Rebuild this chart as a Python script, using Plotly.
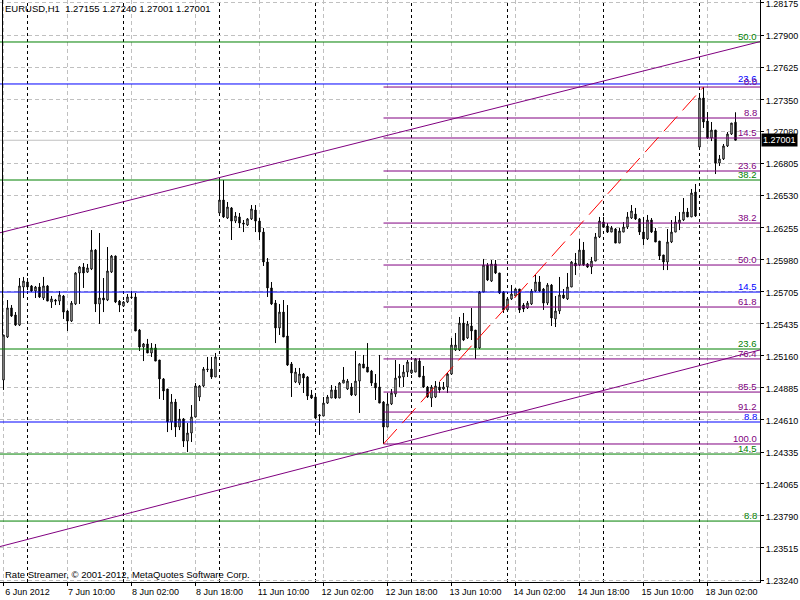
import plotly.graph_objects as go

# ---------------- data (EURUSD H1) ----------------
open_ = [1.24951,1.25319,1.25567,1.25507,1.25421,1.25746,1.25789,1.25755,1.25712,1.25746,
1.25652,1.25755,1.25618,1.25635,1.25626,1.25669,1.25541,1.25455,1.25601,1.25866,
1.25917,1.25874,1.25900,1.26062,1.25601,1.25652,1.25635,1.25874,1.26011,1.25626,
1.25584,1.25618,1.25661,1.25661,1.25378,1.25233,1.25259,1.25182,1.25225,1.25122,
1.24960,1.24874,1.24592,1.24763,1.24549,1.24618,1.24429,1.24498,1.24635,1.24806,
1.24900,1.25045,1.25045,1.24977,1.26379,1.26490,1.26336,1.26422,1.26310,1.26345,
1.26293,1.26276,1.26328,1.26404,1.26310,1.26216,1.25960,1.25738,1.25609,1.25396,
1.25532,1.25327,1.25088,1.24934,1.24925,1.25002,1.24977,1.24823,1.24806,1.24643,
1.24643,1.24754,1.24797,1.24866,1.24797,1.24925,1.24874,1.24891,1.24823,1.24942,
1.25088,1.25062,1.25028,1.24925,1.24891,1.24763,1.24549,1.24746,1.24831,1.24968,
1.24977,1.25019,1.25011,1.25019,1.25113,1.24985,1.24891,1.24797,1.24806,1.24891,
1.24874,1.24891,1.25002,1.25208,1.25208,1.25438,1.25310,1.25413,1.25378,1.25225,
1.25703,1.25934,1.25797,1.25943,1.25866,1.25703,1.25550,1.25644,1.25669,1.25729,
1.25592,1.25567,1.25601,1.25712,1.25789,1.25729,1.25609,1.25763,1.25473,1.25541,
1.25678,1.25644,1.25746,1.25951,1.25934,1.26062,1.25943,1.25917,1.25968,1.26174,
1.26302,1.26268,1.26216,1.26242,1.26122,1.26216,1.26259,1.26336,1.26370,1.26328,
1.26216,1.26157,1.26319,1.26225,1.26139,1.26020,1.25960,1.26131,1.26216,1.26293,
1.26319,1.26387,1.26345,1.26558,1.26943,1.27362,1.27165,1.27020,1.27088,1.26806,
1.26841,1.26952,1.27054,1.27155]
high_ = [1.25336,1.25635,1.25592,1.25532,1.25823,1.25832,1.25823,1.25763,1.25755,1.25780,
1.25832,1.25763,1.25669,1.25644,1.25712,1.25678,1.25550,1.25626,1.25874,1.25926,
1.25951,1.25943,1.26233,1.26071,1.26208,1.25823,1.26088,1.26020,1.26015,1.25635,
1.25626,1.25686,1.25712,1.25695,1.25387,1.25267,1.25302,1.25267,1.25259,1.25122,
1.24968,1.24874,1.24831,1.24789,1.24703,1.24626,1.24583,1.24737,1.24925,1.24908,
1.25062,1.25148,1.25148,1.25182,1.26661,1.26661,1.26473,1.26430,1.26387,1.26379,
1.26319,1.26336,1.26447,1.26447,1.26336,1.26251,1.25994,1.25789,1.25635,1.25601,
1.25635,1.25592,1.25105,1.25054,1.25054,1.25011,1.24985,1.24866,1.24814,1.24660,
1.24806,1.24823,1.24908,1.24900,1.24934,1.25062,1.24960,1.24925,1.25199,1.25096,
1.25165,1.25267,1.25037,1.25002,1.25165,1.24771,1.24840,1.24874,1.25122,1.25088,
1.25079,1.25122,1.25105,1.25139,1.25139,1.25071,1.24900,1.24908,1.24942,1.24934,
1.24934,1.25011,1.25310,1.25353,1.25490,1.25524,1.25455,1.25567,1.25378,1.25712,
1.25986,1.25951,1.25977,1.25977,1.25866,1.25712,1.25661,1.25763,1.25738,1.25729,
1.25609,1.25626,1.25729,1.25849,1.25840,1.25738,1.25780,1.25772,1.25669,1.25832,
1.25729,1.25866,1.25968,1.26037,1.26157,1.26131,1.25951,1.26003,1.26208,1.26345,
1.26345,1.26293,1.26268,1.26251,1.26251,1.26302,1.26387,1.26447,1.26422,1.26336,
1.26345,1.26362,1.26336,1.26251,1.26139,1.26020,1.26242,1.26319,1.26353,1.26387,
1.26507,1.26422,1.26584,1.26627,1.27379,1.27456,1.27242,1.27157,1.27088,1.26875,
1.26969,1.27071,1.27148,1.27240]
low_ = [1.24866,1.25310,1.25490,1.25413,1.25413,1.25652,1.25720,1.25703,1.25652,1.25652,
1.25635,1.25626,1.25567,1.25592,1.25592,1.25473,1.25370,1.25447,1.25592,1.25601,
1.25738,1.25866,1.25891,1.25532,1.25430,1.25532,1.25626,1.25866,1.25609,1.25532,
1.25575,1.25609,1.25644,1.25370,1.25199,1.25113,1.25182,1.25148,1.25113,1.24789,
1.24780,1.24506,1.24523,1.24464,1.24523,1.24378,1.24335,1.24421,1.24630,1.24771,
1.24891,1.25019,1.24960,1.24977,1.26379,1.26336,1.26328,1.26148,1.26293,1.26251,
1.26216,1.26268,1.26319,1.26216,1.26148,1.25926,1.25661,1.25592,1.25267,1.25336,
1.25319,1.25071,1.24806,1.24925,1.24908,1.24840,1.24780,1.24789,1.24626,1.24481,
1.24643,1.24746,1.24797,1.24789,1.24797,1.24925,1.24866,1.24814,1.24814,1.24669,
1.25054,1.25019,1.24900,1.24780,1.24754,1.24404,1.24549,1.24737,1.24806,1.24891,
1.24891,1.24977,1.25002,1.25019,1.24977,1.24883,1.24797,1.24720,1.24797,1.24840,
1.24866,1.24840,1.24994,1.25199,1.25199,1.25284,1.25302,1.25293,1.25131,1.25216,
1.25703,1.25797,1.25789,1.25857,1.25686,1.25524,1.25541,1.25635,1.25661,1.25524,
1.25532,1.25558,1.25592,1.25703,1.25703,1.25550,1.25592,1.25413,1.25404,1.25515,
1.25644,1.25635,1.25746,1.25849,1.25926,1.25926,1.25909,1.25857,1.25968,1.26165,
1.26251,1.26208,1.26216,1.26122,1.26122,1.26216,1.26242,1.26328,1.26319,1.26191,
1.26105,1.26148,1.26208,1.26131,1.25977,1.25891,1.25891,1.26122,1.26216,1.26233,
1.26310,1.26345,1.26345,1.26345,1.26935,1.27106,1.27012,1.26994,1.26712,1.26781,
1.26832,1.26943,1.27046,1.27001]
close_ = [1.25336,1.25567,1.25498,1.25421,1.25755,1.25797,1.25746,1.25712,1.25746,1.25661,
1.25755,1.25626,1.25644,1.25626,1.25678,1.25532,1.25455,1.25609,1.25866,1.25917,
1.25866,1.25909,1.26062,1.25601,1.25652,1.25635,1.25883,1.26011,1.25618,1.25592,
1.25618,1.25661,1.25657,1.25370,1.25233,1.25259,1.25182,1.25225,1.25113,1.24960,
1.24857,1.24592,1.24763,1.24549,1.24618,1.24429,1.24498,1.24635,1.24900,1.24900,
1.25045,1.25041,1.24977,1.25148,1.26490,1.26345,1.26430,1.26310,1.26353,1.26293,
1.26285,1.26328,1.26413,1.26310,1.26216,1.25960,1.25738,1.25601,1.25396,1.25532,
1.25319,1.25079,1.25011,1.25019,1.25002,1.24968,1.24814,1.24797,1.24626,1.24652,
1.24754,1.24806,1.24866,1.24797,1.24925,1.24951,1.24942,1.24823,1.24942,1.25088,
1.25054,1.25019,1.24925,1.24883,1.24754,1.24549,1.24746,1.24840,1.24968,1.24985,
1.25019,1.25105,1.25037,1.25131,1.24977,1.24891,1.24806,1.24891,1.24900,1.24866,
1.24891,1.25002,1.25250,1.25250,1.25438,1.25293,1.25430,1.25370,1.25225,1.25703,
1.25934,1.25806,1.25943,1.25866,1.25695,1.25550,1.25644,1.25686,1.25729,1.25550,
1.25558,1.25609,1.25712,1.25789,1.25712,1.25609,1.25763,1.25481,1.25541,1.25678,
1.25652,1.25746,1.25960,1.25926,1.26062,1.25934,1.25917,1.25968,1.26174,1.26310,
1.26259,1.26216,1.26251,1.26122,1.26225,1.26259,1.26345,1.26396,1.26328,1.26216,
1.26157,1.26319,1.26216,1.26131,1.26011,1.25960,1.26131,1.26216,1.26302,1.26319,
1.26387,1.26345,1.26550,1.26353,1.27362,1.27157,1.27020,1.27088,1.26806,1.26841,
1.26952,1.27054,1.27148,1.27001]

# time axis (bar index positions of labels / day separators)
time_tick_idx = [0, 16, 32, 48, 64, 80, 96, 112, 128, 144, 160, 176]
time_tick_text = ["6 Jun 2012", "7 Jun 10:00", "8 Jun 02:00", "8 Jun 18:00", "11 Jun 10:00",
                  "12 Jun 02:00", "12 Jun 18:00", "13 Jun 10:00", "14 Jun 02:00",
                  "14 Jun 18:00", "15 Jun 10:00", "18 Jun 02:00"]
day_start_idx = [6, 30, 54, 78, 102, 126, 150, 174]

price_ticks = [1.28175, 1.27900, 1.27625, 1.27350, 1.27080, 1.26805, 1.26530, 1.26255,
               1.25980, 1.25705, 1.25435, 1.25160, 1.24885, 1.24610, 1.24335, 1.24065,
               1.23790, 1.23515, 1.23240]

# Fibonacci level sets
green_levels = ["50.0", "38.2", "23.6", "14.5", "8.8"]
green_prices = [1.27841, 1.26661, 1.25216, 1.24318, 1.23745]
blue_levels = ["23.6", "14.5", "8.8"]
blue_prices = [1.27482, 1.25703, 1.24592]
purple_levels = ["0.0", "8.8", "14.5", "23.6", "38.2", "50.0", "61.8", "76.4", "85.5", "91.2", "100.0"]
purple_prices = [1.27456, 1.27191, 1.27020, 1.26738, 1.26293, 1.25934, 1.25575, 1.25131,
                 1.24848, 1.24677, 1.24404]
fib_anchor_idx = [95, 175]
fib_anchor_price = [1.24404, 1.27456]

# channel trend lines (anchor points)
upper_channel_idx = [-0.875, 189.125]
upper_channel_price = [1.26210, 1.27844]
lower_channel_idx = [-0.875, 189.125]
lower_channel_price = [1.23527, 1.25208]

bid_price = 1.27001
header_text = "EURUSD,H1  1.27155 1.27240 1.27001 1.27001"
footer_text = "Rate Streamer, © 2001-2012, MetaQuotes Software Corp."

# ---------------- styling ----------------
FONT = "Liberation Sans, Arial, sans-serif"
GREEN = "#008000"
BLUE = "#0000FF"
PURPLE = "#800080"
GRID = "#C0C0C0"
X_RANGE = [-0.875, 189.125]
Y_RANGE = [1.23224, 1.28200]

bars = list(range(len(open_)))

fig = go.Figure()
fig.add_trace(go.Candlestick(
    x=bars, open=open_, high=high_, low=low_, close=close_,
    increasing=dict(line=dict(color="black", width=1), fillcolor="white"),
    decreasing=dict(line=dict(color="black", width=1), fillcolor="black"),
    whiskerwidth=0, hoverinfo="skip", showlegend=False,
))

def hline(x0, x1, p, color, dash="solid"):
    fig.add_trace(go.Scatter(x=[x0, x1], y=[p, p], mode="lines",
                             line=dict(color=color, width=1, dash=dash),
                             hoverinfo="skip", showlegend=False))

for p in green_prices:
    hline(X_RANGE[0], X_RANGE[1], p, GREEN)
for p in blue_prices:
    hline(X_RANGE[0], X_RANGE[1], p, BLUE)
for p in purple_prices:
    hline(fib_anchor_idx[0], X_RANGE[1], p, PURPLE)

for xs, ys in [(upper_channel_idx, upper_channel_price), (lower_channel_idx, lower_channel_price)]:
    fig.add_trace(go.Scatter(x=xs, y=ys, mode="lines", line=dict(color=PURPLE, width=1),
                             hoverinfo="skip", showlegend=False))

fig.add_trace(go.Scatter(x=fib_anchor_idx, y=fib_anchor_price, mode="lines",
                         line=dict(color="#FF0000", width=1, dash="20px,8px"),
                         hoverinfo="skip", showlegend=False))

shapes = []
for d in day_start_idx:
    shapes.append(dict(type="line", xref="x", yref="paper", x0=d, x1=d, y0=0, y1=1,
                       line=dict(color="black", width=1, dash="3px,3px"), layer="below"))
shapes.append(dict(type="line", xref="paper", yref="y", x0=0, x1=1, y0=bid_price, y1=bid_price,
                   line=dict(color=GRID, width=1), layer="below"))
shapes.append(dict(type="line", xref="x", yref="y", x0=-0.25, x1=-0.25, y0=high_[0], y1=Y_RANGE[1],
                   line=dict(color="black", width=1), layer="above"))

annotations = []
for levels, prices, color in [(green_levels, green_prices, GREEN),
                              (blue_levels, blue_prices, BLUE),
                              (purple_levels, purple_prices, PURPLE)]:
    for lab, p in zip(levels, prices):
        annotations.append(dict(xref="paper", yref="y", x=1, y=p, xanchor="right", yanchor="bottom",
                                xshift=-2, yshift=-1, text=lab, showarrow=False,
                                font=dict(family=FONT, size=9.5, color=color), borderpad=0))
annotations.append(dict(xref="paper", yref="paper", x=0, y=1, xanchor="left", yanchor="top",
                        xshift=3, yshift=-1, text=header_text, showarrow=False,
                        font=dict(family=FONT, size=9.5, color="black")))
annotations.append(dict(xref="paper", yref="paper", x=0, y=0, xanchor="left", yanchor="bottom",
                        xshift=3, yshift=0, text=footer_text, showarrow=False,
                        font=dict(family=FONT, size=9.5, color="black")))
annotations.append(dict(xref="paper", yref="y", x=1, y=bid_price, xanchor="left", yanchor="middle",
                        xshift=1, text=f"{bid_price:.5f}", showarrow=False, bgcolor="black",
                        borderpad=1, font=dict(family=FONT, size=9, color="white")))

fig.update_layout(
    width=800, height=600,
    margin=dict(l=0, r=40, t=0, b=18),
    paper_bgcolor="white", plot_bgcolor="white",
    showlegend=False, boxgap=0.5,
    shapes=shapes, annotations=annotations,
    xaxis=dict(range=X_RANGE, tickmode="array", tickvals=time_tick_idx, ticktext=time_tick_text,
               ticks="outside", ticklen=3, tickcolor="black", showgrid=True, gridcolor=GRID,
               griddash="4px,3px", gridwidth=1, showline=True, linecolor="black", linewidth=1,
               zeroline=False, rangeslider=dict(visible=False), ticklabelshift=24,
               ticklabelstandoff=-2, automargin=False,
               tickfont=dict(family=FONT, size=9, color="black"), fixedrange=True),
    yaxis=dict(range=Y_RANGE, side="right", tickmode="array", tickvals=price_ticks,
               ticktext=[f"{v:.5f}" for v in price_ticks], ticks="outside", ticklen=3,
               tickcolor="black", showgrid=True, gridcolor=GRID, griddash="4px,3px", gridwidth=1,
               showline=True, linecolor="black", linewidth=1, zeroline=False, automargin=False,
               ticklabeloverflow="allow", ticklabelshift=1,
               tickfont=dict(family=FONT, size=9, color="black"), fixedrange=True),
)

fig.write_html("out.html", config={"displayModeBar": False},
               post_script="document.body.style.margin='0px';document.body.style.overflow='hidden';")
